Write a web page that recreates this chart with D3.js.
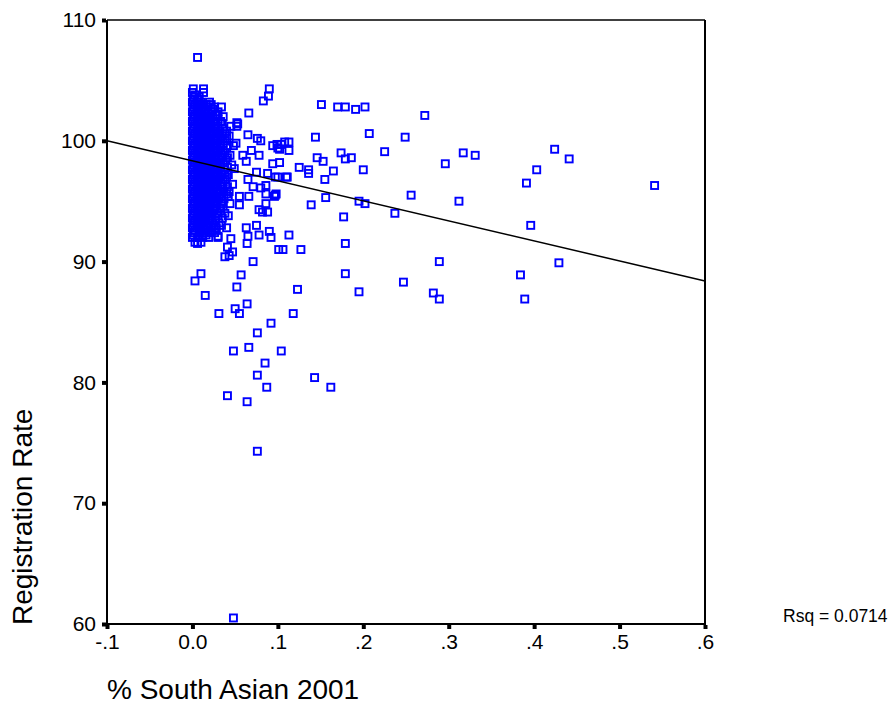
<!DOCTYPE html>
<html>
  <head>
    <title>Registration Rate scatter</title>
    <style>
      body {margin:0; background:#fff;}
      svg {font-family:"Liberation Sans", Arial, sans-serif;}
      .axis text {font-size:21px; fill:#000;}
      .axis path {display:none;}
      .axis line {stroke:#000; stroke-width:4px;}
      .title {font-size:28px; fill:#000;}
      .rsq {font-size:17.5px; fill:#000;}
      .pt {fill:none; stroke:#0000ff; stroke-width:1.9px;}
    </style>
    <script src="https://cdn.jsdelivr.net/npm/d3@7"></script>
  </head>
  <body>
    <svg id="chart" width="891" height="727"></svg>
    <script>
      // axis ticks
      var xTicks      = [-0.1, 0, 0.1, 0.2, 0.3, 0.4, 0.5, 0.6];
      var xTickLabels = ["-.1", "0.0", ".1", ".2", ".3", ".4", ".5", ".6"];
      var yTicks      = [60, 70, 80, 90, 100, 110];
      var yTickLabels = ["60", "70", "80", "90", "100", "110"];

      // fitted line y = a + b*x
      var fitIntercept = 98.34;
      var fitSlope     = -16.57;
      var rsqText      = "Rsq = 0.0714";

      // dense cluster near x = 0, one row per y level
      var clusterY = [104.0, 103.6, 103.2, 102.8, 102.4, 102.0, 101.6, 101.2, 100.8, 100.4,
                      100.0, 99.6, 99.2, 98.8, 98.4, 98.0, 97.6, 97.2, 96.8, 96.4,
                      96.0, 95.6, 95.2, 94.8, 94.4, 94.0, 93.6, 93.2, 92.8, 92.4,
                      92.0, 91.6,
                      103.8, 103.4, 103.0, 102.6, 102.2, 101.8, 101.4, 101.0, 100.6, 100.2,
                      99.8, 99.4, 99.0, 98.6, 98.2, 97.8, 97.4, 97.0, 96.6, 96.2,
                      95.8, 95.4, 95.0, 94.6, 94.2, 93.8, 93.4, 93.0, 92.6, 92.2];
      var clusterX = [
        [0.000, 0.013],
        [0.002, 0.008],
        [0.000, 0.005, 0.010, 0.020],
        [0.002, 0.007, 0.012, 0.018, 0.026],
        [0.000, 0.005, 0.010, 0.015, 0.022, 0.030],
        [0.002, 0.007, 0.012, 0.017, 0.024, 0.036],
        [0.000, 0.005, 0.010, 0.015, 0.020, 0.027, 0.033],
        [0.002, 0.007, 0.012, 0.017, 0.022, 0.030, 0.045],
        [0.000, 0.005, 0.010, 0.015, 0.020, 0.025, 0.032, 0.040],
        [0.002, 0.007, 0.012, 0.017, 0.022, 0.028, 0.035, 0.043],
        [0.000, 0.005, 0.010, 0.015, 0.020, 0.025, 0.030, 0.038],
        [0.002, 0.007, 0.012, 0.017, 0.022, 0.027, 0.033, 0.041, 0.048],
        [0.000, 0.005, 0.010, 0.015, 0.020, 0.025, 0.030, 0.036],
        [0.002, 0.007, 0.012, 0.017, 0.022, 0.028, 0.034, 0.044],
        [0.000, 0.005, 0.010, 0.015, 0.020, 0.025, 0.031, 0.039],
        [0.002, 0.007, 0.012, 0.017, 0.022, 0.027, 0.033, 0.046],
        [0.000, 0.005, 0.010, 0.015, 0.020, 0.025, 0.030, 0.037],
        [0.002, 0.007, 0.012, 0.017, 0.022, 0.028, 0.035, 0.042],
        [0.000, 0.005, 0.010, 0.015, 0.020, 0.025, 0.031, 0.038],
        [0.002, 0.007, 0.012, 0.017, 0.022, 0.027, 0.034, 0.047],
        [0.000, 0.005, 0.010, 0.015, 0.020, 0.025, 0.030, 0.036],
        [0.002, 0.007, 0.012, 0.017, 0.022, 0.028, 0.033, 0.040],
        [0.000, 0.005, 0.010, 0.015, 0.020, 0.025, 0.031, 0.037],
        [0.002, 0.007, 0.012, 0.017, 0.022, 0.027, 0.034, 0.044],
        [0.000, 0.005, 0.010, 0.015, 0.020, 0.026, 0.032],
        [0.002, 0.007, 0.012, 0.017, 0.023, 0.029, 0.038],
        [0.000, 0.005, 0.010, 0.015, 0.021, 0.027, 0.035],
        [0.002, 0.007, 0.012, 0.018, 0.024, 0.031],
        [0.000, 0.005, 0.010, 0.016, 0.022, 0.028, 0.040],
        [0.002, 0.008, 0.014, 0.020, 0.026],
        [0.000, 0.006, 0.012, 0.019, 0.030],
        [0.003, 0.010],
        [0.003],
        [0.001, 0.006],
        [0.003, 0.009, 0.016],
        [0.001, 0.006, 0.011, 0.016, 0.024],
        [0.003, 0.009, 0.014, 0.019, 0.027],
        [0.001, 0.006, 0.011, 0.016, 0.021, 0.030],
        [0.003, 0.009, 0.014, 0.019, 0.025, 0.035],
        [0.001, 0.006, 0.011, 0.016, 0.021, 0.027, 0.036],
        [0.003, 0.009, 0.014, 0.019, 0.024, 0.030, 0.038],
        [0.001, 0.006, 0.011, 0.016, 0.021, 0.026, 0.033, 0.040],
        [0.003, 0.009, 0.014, 0.019, 0.024, 0.029, 0.036],
        [0.001, 0.006, 0.011, 0.016, 0.021, 0.027, 0.033, 0.040],
        [0.003, 0.009, 0.014, 0.019, 0.024, 0.030, 0.038],
        [0.001, 0.006, 0.011, 0.016, 0.021, 0.026, 0.034, 0.041],
        [0.003, 0.009, 0.014, 0.019, 0.024, 0.029, 0.036],
        [0.001, 0.006, 0.011, 0.016, 0.021, 0.027, 0.033, 0.041],
        [0.003, 0.009, 0.014, 0.019, 0.024, 0.030, 0.038],
        [0.001, 0.006, 0.011, 0.016, 0.021, 0.026, 0.033, 0.040],
        [0.003, 0.009, 0.014, 0.019, 0.024, 0.029, 0.036],
        [0.001, 0.006, 0.011, 0.016, 0.021, 0.027, 0.033, 0.041],
        [0.003, 0.009, 0.014, 0.019, 0.024, 0.030, 0.037],
        [0.001, 0.006, 0.011, 0.016, 0.021, 0.026, 0.034, 0.042],
        [0.003, 0.009, 0.014, 0.019, 0.024, 0.029, 0.035],
        [0.001, 0.006, 0.011, 0.016, 0.021, 0.028, 0.036],
        [0.003, 0.009, 0.014, 0.019, 0.025, 0.033],
        [0.001, 0.006, 0.011, 0.016, 0.022, 0.030, 0.042],
        [0.003, 0.009, 0.014, 0.020, 0.027],
        [0.001, 0.006, 0.012, 0.018, 0.025, 0.034],
        [0.003, 0.009, 0.016, 0.023],
        [0.001, 0.008, 0.016]
      ];

      // remaining points, [share south asian, registration rate]
      var others = [
        [0.006,106.9],[0.090,104.3],[0.089,103.7],[0.083,103.3],[0.066,102.3],[0.022,103.0],
        [0.034,102.8],[0.029,102.1],[0.052,101.5],[0.052,101.2],[0.053,101.4],
        [0.151,103.0],[0.170,102.8],[0.179,102.8],[0.191,102.6],[0.202,102.8],[0.272,102.1],
        [0.207,100.6],[0.144,100.3],[0.249,100.3],[0.225,99.1],[0.317,99.0],[0.296,98.1],
        [0.174,99.0],[0.179,98.5],[0.186,98.6],[0.146,98.6],[0.153,98.3],[0.165,97.5],
        [0.200,97.6],[0.136,97.6],[0.136,97.3],[0.125,97.8],[0.155,96.8],[0.111,97.0],
        [0.097,97.0],[0.094,98.1],[0.102,98.2],[0.099,99.7],[0.104,99.7],[0.113,99.9],
        [0.113,99.2],[0.102,99.3],[0.097,95.5],[0.156,95.3],[0.139,94.7],[0.195,95.0],
        [0.202,94.8],[0.177,93.7],[0.237,94.0],[0.256,95.5],[0.312,95.0],[0.113,92.2],
        [0.092,92.0],[0.101,91.0],[0.106,91.0],[0.127,91.0],[0.179,91.5],[0.179,89.0],
        [0.195,87.5],[0.123,87.7],[0.118,85.7],
        [0.331,98.8],[0.424,99.3],[0.441,98.5],[0.403,97.6],[0.391,96.5],[0.541,96.3],
        [0.396,93.0],[0.289,90.0],[0.429,89.9],[0.384,88.9],[0.282,87.4],[0.289,86.9],
        [0.389,86.9],[0.247,88.3],
        [0.006,91.5],[0.064,91.5],[0.038,90.4],[0.043,90.5],[0.047,90.8],[0.071,90.0],
        [0.010,89.0],[0.003,88.4],[0.057,88.9],[0.052,87.9],[0.015,87.2],[0.064,86.5],
        [0.031,85.7],[0.050,86.1],[0.055,85.7],[0.092,84.9],[0.076,84.1],[0.048,82.6],
        [0.066,82.9],[0.104,82.6],[0.085,81.6],[0.076,80.6],[0.087,79.6],[0.041,78.9],
        [0.064,78.4],[0.143,80.4],[0.162,79.6],[0.076,74.3],[0.048,60.5],
        [0.065,92.1],[0.045,91.9],[0.030,92.1],[0.012,92.1],[0.041,91.2],
        [0.065,100.5],[0.080,100.0],[0.078,98.8],[0.094,99.6],[0.100,99.4],[0.075,97.4],
        [0.088,97.3],[0.100,97.0],[0.065,96.8],[0.071,96.2],[0.080,96.1],[0.086,95.6],
        [0.098,95.6],[0.066,95.4],[0.086,94.8],[0.078,94.3],[0.088,94.1],[0.055,94.7],
        [0.055,95.4],[0.075,93.0],[0.090,92.5],[0.078,92.2],[0.063,92.8],[0.043,95.8],
        [0.049,97.7],[0.063,98.3],[0.076,100.2],[0.051,99.8],[0.069,99.2],[0.059,98.8],
        [0.108,99.9],[0.110,97.0],[0.096,95.4],[0.082,94.1],[0.086,96.3],
        [0.001,104.3],[0.013,104.3]
      ];

      var points = [];
      for (var i = 0; i < clusterY.length; i++) {
        for (var j = 0; j < clusterX[i].length; j++) {
          points.push([clusterX[i][j], clusterY[i]]);
        }
      }
      others.forEach(function(p) { points.push(p); });

      var margin = {left: 107, top: 20, right: 186, bottom: 103};
      var svgWidth = 891, svgHeight = 727;
      var plotW = svgWidth - margin.left - margin.right;
      var plotH = svgHeight - margin.top - margin.bottom;

      var x = d3.scaleLinear().domain([-0.1, 0.6]).range([margin.left, margin.left + plotW]);
      var y = d3.scaleLinear().domain([60, 110]).range([margin.top + plotH, margin.top]);

      var svg = d3.select("#chart");

      // points
      var size = 7;
      svg.append("g").selectAll("rect")
         .data(points)
         .enter()
         .append("rect")
         .attr("class", "pt")
         .attr("x", function(d) { return x(d[0]) - size / 2; })
         .attr("y", function(d) { return y(d[1]) - size / 2; })
         .attr("width", size)
         .attr("height", size);

      // fit line
      svg.append("line")
         .attr("x1", x(-0.1)).attr("y1", y(fitIntercept + fitSlope * -0.1))
         .attr("x2", x(0.6)).attr("y2", y(fitIntercept + fitSlope * 0.6))
         .attr("stroke", "#000").attr("stroke-width", 1.5);

      // frame
      svg.append("line").attr("x1", x(-0.1)).attr("x2", x(0.6)).attr("y1", y(110)).attr("y2", y(110))
         .attr("stroke", "#000").attr("stroke-width", 1.5);
      svg.append("line").attr("x1", x(0.6)).attr("x2", x(0.6)).attr("y1", y(110)).attr("y2", y(60))
         .attr("stroke", "#000").attr("stroke-width", 2);
      svg.append("line").attr("x1", x(-0.1)).attr("x2", x(-0.1)).attr("y1", y(110)).attr("y2", y(60) + 1)
         .attr("stroke", "#000").attr("stroke-width", 2);
      svg.append("line").attr("x1", x(-0.1) - 1).attr("x2", x(0.6) + 1).attr("y1", y(60)).attr("y2", y(60))
         .attr("stroke", "#000").attr("stroke-width", 2);

      // axes
      svg.append("g")
         .attr("class", "axis")
         .attr("transform", "translate(" + (margin.left - 1) + ",0)")
         .call(d3.axisLeft(y).tickValues(yTicks).tickSize(4).tickPadding(6)
               .tickFormat(function(d, i) { return yTickLabels[i]; }));
      svg.append("g")
         .attr("class", "axis")
         .attr("transform", "translate(0," + (margin.top + plotH + 1) + ")")
         .call(d3.axisBottom(x).tickValues(xTicks).tickSize(4).tickPadding(5)
               .tickFormat(function(d, i) { return xTickLabels[i]; }));

      // titles
      svg.append("text")
         .attr("class", "title")
         .attr("transform", "translate(32," + (margin.top + plotH + 1) + ") rotate(-90)")
         .text("Registration Rate");
      svg.append("text")
         .attr("class", "title")
         .attr("x", margin.left)
         .attr("y", 699)
         .text("% South Asian 2001");
      svg.append("text")
         .attr("class", "rsq")
         .attr("x", 783)
         .attr("y", 622)
         .text(rsqText);
    </script>
  </body>
</html>
